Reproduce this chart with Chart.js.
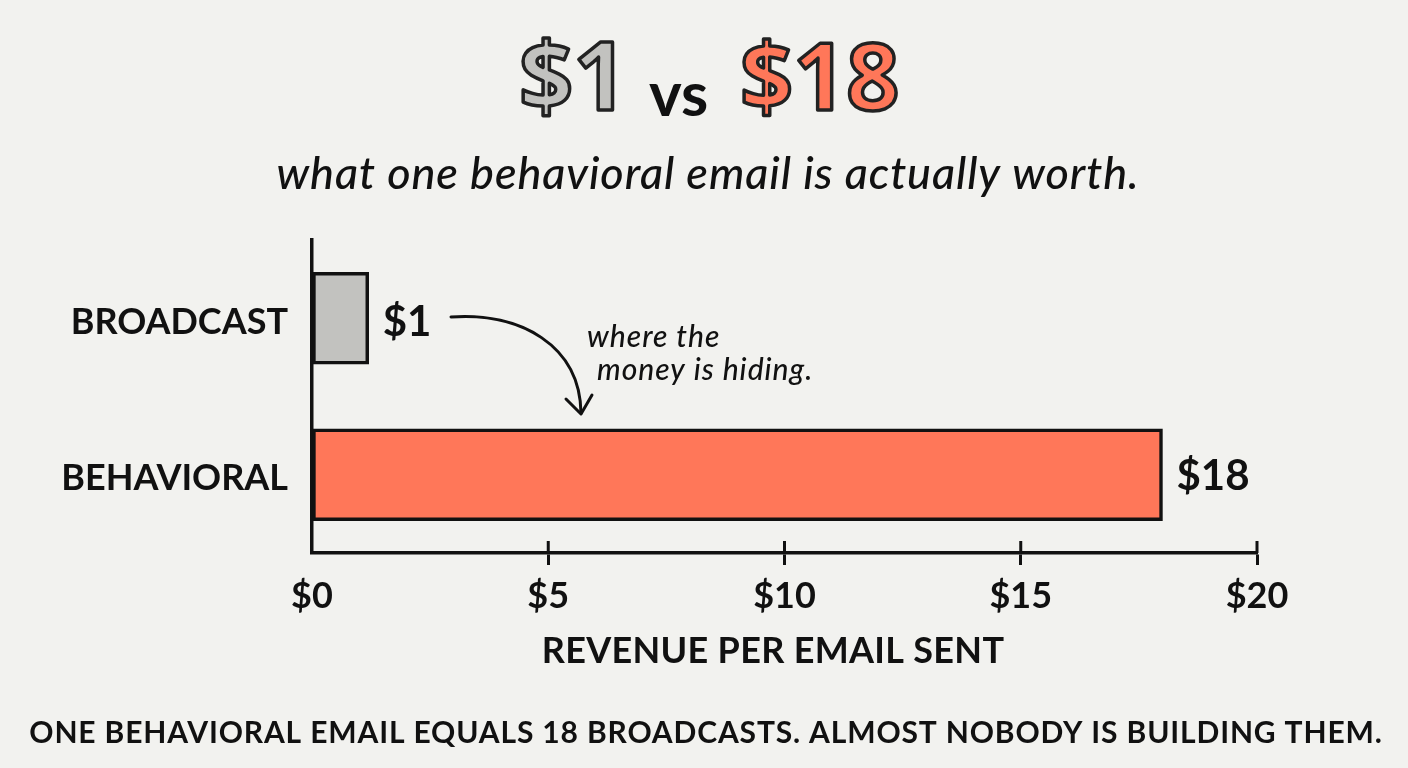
<!DOCTYPE html>
<html><head><meta charset="utf-8">
<style>html,body{margin:0;padding:0;background:#f2f2ef;overflow:hidden}#w{position:relative;width:1408px;height:768px}</style>
<script src="https://cdn.jsdelivr.net/npm/chart.js@4/dist/chart.umd.min.js"></script>
</head><body><div id="w"><canvas id="c" width="1408" height="768"></canvas></div>
<script>
const categories = ["BROADCAST", "BEHAVIORAL"];
const revenuePerEmail = [1.2, 18];
const valueLabels = ["$1", "$18"];
const barColors = ["#c2c2bf", "#ff7759"];
const xTickValues = [0, 5, 10, 15, 20];
const INK = "#111111";
const HAND = "Lato";

function txt(ctx, s, x, y, font, align, spacing, color) {
  ctx.save();
  ctx.font = font; ctx.textAlign = align || "left"; ctx.textBaseline = "middle";
  ctx.letterSpacing = (spacing || 0) + "px";
  ctx.fillStyle = color || INK;
  ctx.fillText(s, x, y);
  ctx.restore();
}
function outlined(ctx, s, x, y, font, fill) {
  ctx.save();
  ctx.font = font; ctx.textAlign = "left"; ctx.textBaseline = "middle";
  ctx.lineJoin = "round";
  ctx.fillStyle = fill; ctx.fillText(s, x, y);
  ctx.lineWidth = 3.5; ctx.strokeStyle = "#222222";
  ctx.strokeText(s, x, y);
  ctx.restore();
}
const notes = {
  id: "notes",
  afterDraw(chart) {
    const { ctx, scales: { x, y } } = chart;
    outlined(ctx, "$1", 519, 83, `700 95px 'Open Sans'`, barColors[0]);
    txt(ctx, "vs", 649, 96, `700 62px ${HAND}`, "left", 0);
    outlined(ctx, "$18", 740, 83, `700 93px 'Open Sans'`, barColors[1]);
    txt(ctx, "what one behavioral email is actually worth.", 708, 174, `italic 500 45px ${HAND}`, "center", 0.9);

    revenuePerEmail.forEach((v, i) => {
      txt(ctx, valueLabels[i], x.getPixelForValue(v) + 14, y.getPixelForValue(i) + (i ? 2 : 4), `700 42px ${HAND}`, "left", 0);
    });

    txt(ctx, "where the", 587, 337, `italic 500 30px ${HAND}`, "left", 1);
    txt(ctx, "money is hiding.", 597, 370, `italic 500 30px ${HAND}`, "left", 1);

    ctx.save();
    ctx.strokeStyle = INK; ctx.lineWidth = 3; ctx.lineCap = "round"; ctx.lineJoin = "round";
    ctx.beginPath(); ctx.moveTo(451, 317);
    ctx.bezierCurveTo(520, 312, 580, 345, 581, 413); ctx.stroke();
    ctx.beginPath(); ctx.moveTo(566, 399); ctx.lineTo(581, 414); ctx.lineTo(592, 395); ctx.stroke();
    ctx.restore();

    txt(ctx, "REVENUE PER EMAIL SENT", 773, 651, `700 36px ${HAND}`, "center", 0.3);
    txt(ctx, "ONE BEHAVIORAL EMAIL EQUALS 18 BROADCASTS. ALMOST NOBODY IS BUILDING THEM.", 706, 733, `700 30px ${HAND}`, "center", 0.85);

    ctx.save();
    ctx.strokeStyle = INK; ctx.lineWidth = 3;
    xTickValues.forEach(t => {
      if (t === 0) return;
      const px = x.getPixelForValue(t);
      ctx.beginPath(); ctx.moveTo(px, x.top - 12); ctx.lineTo(px, x.top); ctx.stroke();
    });
    ctx.restore();
  }
};
new Chart(document.getElementById("c"), {
  type: "bar",
  data: { labels: categories, datasets: [{ data: revenuePerEmail, backgroundColor: barColors, borderColor: INK, borderWidth: 3.5, barThickness: 92, borderSkipped: false }] },
  options: {
    indexAxis: "y", responsive: false, animation: false,
    layout: { padding: { left: 0, right: 151, top: 240, bottom: 0 } },
    plugins: { legend: { display: false }, tooltip: { enabled: false } },
    scales: {
      x: {
        type: "linear", min: 0, max: 20, afterBuildTicks(s) { s.ticks = xTickValues.map(value => ({ value })); },
        afterFit(s) { s.height = 215; },
        border: { display: true, color: INK, width: 3.5 },
        grid: { drawOnChartArea: false, drawTicks: true, tickLength: 12, tickWidth: 3, tickColor: c => c.tick && c.tick.value === 0 ? "rgba(0,0,0,0)" : INK },
        ticks: { padding: 10, color: INK, font: { family: HAND, size: 36, weight: "700" }, callback: v => "$" + v, maxRotation: 0 }
      },
      y: {
        afterFit(s) { s.width = 312; },
        border: { display: true, color: INK, width: 3.5 },
        grid: { display: false },
        ticks: { padding: 16, labelOffset: 4, color: INK, font: { family: HAND, size: 36, weight: "700" } }
      }
    }
  },
  plugins: [{ id: "bg", beforeDraw(c) { const g = c.ctx; g.save(); g.fillStyle = "#f2f2ef"; g.fillRect(0, 0, 1408, 768); g.restore(); } }, notes]
});
</script></body></html>
